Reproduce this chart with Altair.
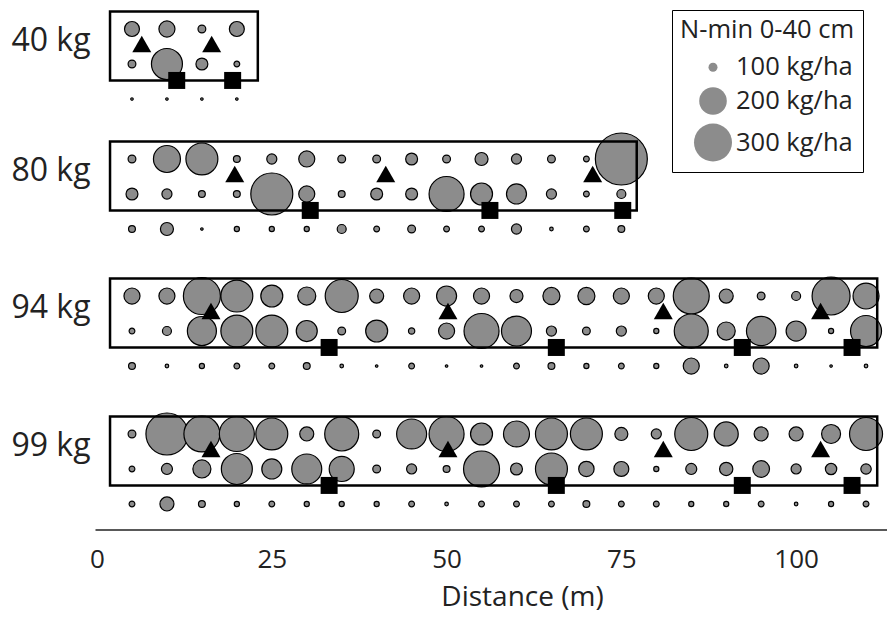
import altair as alt
import pandas as pd

FONT = "Open Sans"
TXT = "#222222"
GRAY = "#8c8c8c"

# ---------------- data ----------------
group_names = ["40 kg", "80 kg", "94 kg", "99 kg"]
group_base = [0.0, 3.714, 7.629, 11.571]          # vertical position of each strip (row units)

dist_40 = [5, 10, 15, 20]
dist_80 = [5, 10, 15, 20, 25, 30, 35, 40, 45, 50, 55, 60, 65, 70, 75]
dist_full = [5, 10, 15, 20, 25, 30, 35, 40, 45, 50, 55, 60, 65, 70, 75,
             80, 85, 90, 95, 100, 105, 110]

# N-min 0-40 cm (kg/ha), three sampling rows per strip
n40_r1 = [121, 126, 97, 121]
n40_r2 = [97, 229, 109, 93]
n40_r3 = [89, 89, 89, 89]

n80_r1 = [97, 195, 238, 95, 103, 126, 97, 97, 109, 97, 113, 103, 97, 93, 485]
n80_r2 = [109, 103, 95, 95, 347, 126, 95, 109, 109, 268, 159, 147, 103, 93, 100]
n80_r3 = [95, 113, 89, 92, 92, 92, 100, 93, 97, 93, 93, 103, 90, 93, 95]

n94_r1 = [126, 126, 289, 238, 159, 136, 248, 117, 126, 147, 126, 113, 131, 131, 126,
          126, 278, 117, 97, 100, 300, 187]
n94_r2 = [93, 100, 212, 238, 238, 153, 97, 159, 94, 126, 268, 220, 103, 97, 103,
          92, 258, 136, 215, 147, 92, 229]
n94_r3 = [95, 90, 92, 93, 93, 95, 90, 89, 93, 89, 89, 93, 95, 92, 93,
          92, 126, 90, 126, 90, 89, 90]

n99_r1 = [97, 347, 278, 268, 238, 117, 258, 97, 220, 268, 159, 187, 238, 238, 113,
          103, 248, 173, 117, 117, 141, 248]
n99_r2 = [93, 106, 136, 229, 147, 220, 180, 97, 103, 95, 278, 109, 238, 123, 121,
          92, 106, 114, 129, 103, 107, 104]
n99_r3 = [93, 117, 95, 92, 93, 92, 92, 92, 93, 90, 93, 93, 93, 95, 93,
          93, 92, 92, 93, 90, 92, 93]

# triangle and square marker distances (m)
tri_40 = [6.4, 16.4]
sq_40 = [11.4, 19.4]
tri_80 = [19.7, 41.3, 70.9]
sq_80 = [30.5, 56.2, 75.2]
tri_94 = [16.3, 50.2, 81.0, 103.5]
sq_94 = [33.2, 65.7, 92.3, 108.0]
tri_99 = [16.3, 50.2, 81.0, 103.5]
sq_99 = [33.2, 65.7, 92.3, 108.0]

# strip extents (m)
strip_start = [1.86, 1.86, 1.86, 1.86]
strip_end = [23.0, 77.2, 111.6, 111.6]

legend_values = [100, 200, 300]
x_ticks = [0, 25, 50, 75, 100]

# row layout inside a strip (row units)
ROW_OFFSETS = [0, 1, 2]
TRI_OFF = 0.43
SQ_OFF = 1.47
RECT_TOP = -0.5
RECT_BOT = 1.47
LABEL_OFF = 0.34

# ---------------- tables ----------------
groups = [
    (dist_40, [n40_r1, n40_r2, n40_r3], tri_40, sq_40),
    (dist_80, [n80_r1, n80_r2, n80_r3], tri_80, sq_80),
    (dist_full, [n94_r1, n94_r2, n94_r3], tri_94, sq_94),
    (dist_full, [n99_r1, n99_r2, n99_r3], tri_99, sq_99),
]

circ, tri, sq, rect = [], [], [], []
for gi, (dists, rows, tris, sqs) in enumerate(groups):
    b = group_base[gi]
    for ri, vals in enumerate(rows):
        for d, v in zip(dists, vals):
            circ.append({"group": group_names[gi], "x": d, "y": b + ROW_OFFSETS[ri], "nmin": v})
    for t in tris:
        tri.append({"group": group_names[gi], "x": t, "y": b + TRI_OFF})
    for s in sqs:
        sq.append({"group": group_names[gi], "x": s, "y": b + SQ_OFF})
    rect.append({"group": group_names[gi], "x": strip_start[gi], "x2": strip_end[gi],
                 "y": b + RECT_TOP, "y2": b + RECT_BOT})

circ_df = pd.DataFrame(circ)
tri_df = pd.DataFrame(tri)
sq_df = pd.DataFrame(sq)
rect_df = pd.DataFrame(rect)

label_vals = [b + LABEL_OFF for b in group_base]
# label expression chosen by strip midpoints
expr = f"'{group_names[-1]}'"
for i in range(len(group_names) - 2, -1, -1):
    mid = (group_base[i] + group_base[i + 1]) / 2
    expr = f"datum.value < {mid} ? '{group_names[i]}' : " + expr

x_scale = alt.Scale(domain=[-0.29, 113.0], nice=False, zero=False)
y_scale = alt.Scale(domain=[-0.6, 14.3], nice=False, zero=False, reverse=True)

x_axis = alt.Axis(values=x_ticks, title="Distance (m)", grid=False, ticks=False, tickSize=0,
                  domain=True, domainColor=TXT, domainWidth=1.5,
                  labelFont=FONT, labelFontSize=26, labelColor=TXT, labelPadding=38,
                  labelBaseline="alphabetic", labelFlush=False,
                  titleFont=FONT, titleFontSize=28, titleFontWeight="normal", titleColor=TXT,
                  titleX=427, titleY=76, titleBaseline="alphabetic", titleAlign="center")
y_axis = alt.Axis(values=label_vals, labelExpr=expr, grid=False, ticks=False, tickSize=0,
                  domain=False, labelFont=FONT, labelFontSize=32, labelColor=TXT,
                  labelPadding=5, labelOverlap=False, labelFlush=False, title=None)

X = alt.X("x:Q", scale=x_scale, axis=x_axis)
Y = alt.Y("y:Q", scale=y_scale, axis=y_axis)

circles = alt.Chart(circ_df).mark_circle(
    fill=GRAY, stroke="black", strokeWidth=1.2, opacity=1
).encode(
    x=X, y=Y,
    size=alt.Size("nmin:Q",
                  scale=alt.Scale(domain=[100, 300], range=[81, 1444], zero=False),
                  legend=alt.Legend(
                      title="N-min 0-40 cm", values=legend_values,
                      labelExpr="datum.label + ' kg/ha'",
                      orient="none", legendX=577, legendY=2, direction="vertical",
                      titleFont=FONT, titleFontSize=25.5, titleFontWeight="normal", titleColor=TXT,
                      labelFont=FONT, labelFontSize=25.5, labelColor=TXT,
                      symbolType="circle", symbolFillColor=GRAY, symbolStrokeColor="black",
                      symbolStrokeWidth=1.2, symbolOpacity=1,
                      strokeColor="black", fillColor="white", padding=8,
                      rowPadding=3, symbolOffset=13, labelOffset=3,
                      titlePadding=11))
)

rects = alt.Chart(rect_df).mark_rect(
    fill=None, fillOpacity=0, stroke="black", strokeWidth=2.5
).encode(
    x=alt.X("x:Q", scale=x_scale, axis=x_axis), x2="x2:Q",
    y=alt.Y("y:Q", scale=y_scale, axis=y_axis), y2="y2:Q"
)

tris = alt.Chart(tri_df).mark_point(
    shape="triangle-up", filled=True, color="black", size=361, opacity=1
).encode(x=X, y=Y)

sqs = alt.Chart(sq_df).mark_point(
    shape="square", filled=True, color="black", size=289, opacity=1
).encode(x=X, y=Y)

chart = alt.layer(circles, rects, tris, sqs).properties(
    width=792, height=521.5, autosize="none",
    padding={"left": 87, "top": 0, "right": 0, "bottom": 83.5},
    background="white"
).configure_view(stroke=None)

chart.save("out.html", embed_options={"renderer": "svg", "actions": False})
